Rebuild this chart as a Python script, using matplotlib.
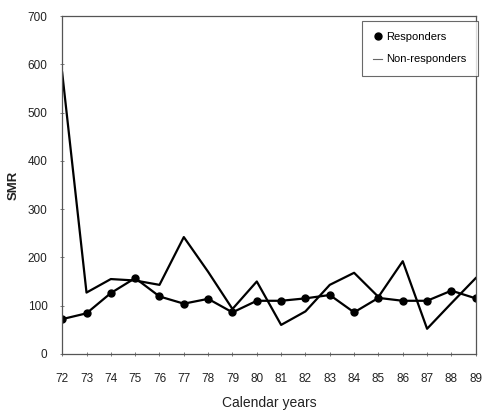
import matplotlib.pyplot as plt

years = list(range(72, 90))
year_labels = [str(y) for y in years]

responders = [72, 84, 126, 157, 119, 104, 114, 86, 110, 110, 115, 122, 86, 116, 110, 110, 131, 115]
non_responders = [583, 127, 155, 152, 143, 242, 170, 93, 150, 60, 88, 143, 168, 118, 192, 52, 105, 157]

plt.rcParams['font.family'] = ['Liberation Sans', 'DejaVu Sans']

fig = plt.figure(figsize=(4.82, 4.11), dpi=100)
ax = fig.add_axes([0.129, 0.139, 0.858, 0.822])

ax.plot(years, responders, color='black', lw=1.6, marker='o', markersize=5,
        label='Responders')
ax.plot(years, non_responders, color='black', lw=1.6, label='Non-responders')

ax.set_xlim(72, 89)
ax.set_ylim(0, 700)
ax.set_xticks(years)
ax.set_xticklabels(year_labels)
ax.set_yticks(range(0, 701, 100))

for s in ax.spines.values():
    s.set_color('#555555')
    s.set_linewidth(0.9)

ax.tick_params(axis='both', direction='inout', length=3, width=0.6, color='#666666',
               labelsize=8.5, labelcolor='#222222')
ax.tick_params(axis='x', pad=12)
ax.tick_params(axis='y', pad=9)

ax.set_xlabel('Calendar years', fontsize=10, color='#222222', labelpad=8)
ax.set_ylabel('SMR', fontsize=9.5, fontweight='bold', color='#222222', labelpad=6)

# legend: dot for responders, thin dash for non-responders
leg_handles = [
    plt.Line2D([], [], color='black', marker='o', markersize=5, lw=0),
    plt.Line2D([], [], color='#666666', lw=0.8),
]
leg = ax.legend(leg_handles, ['Responders', 'Non-responders'], loc='upper right',
                bbox_to_anchor=(1.005, 0.985), fontsize=8, frameon=True, fancybox=False,
                edgecolor='#444444', handlelength=0.8, handletextpad=0.4, borderpad=1.0,
                labelspacing=1.1, borderaxespad=0.0)
leg.get_frame().set_linewidth(0.8)

fig.savefig('out.png', dpi=100)
